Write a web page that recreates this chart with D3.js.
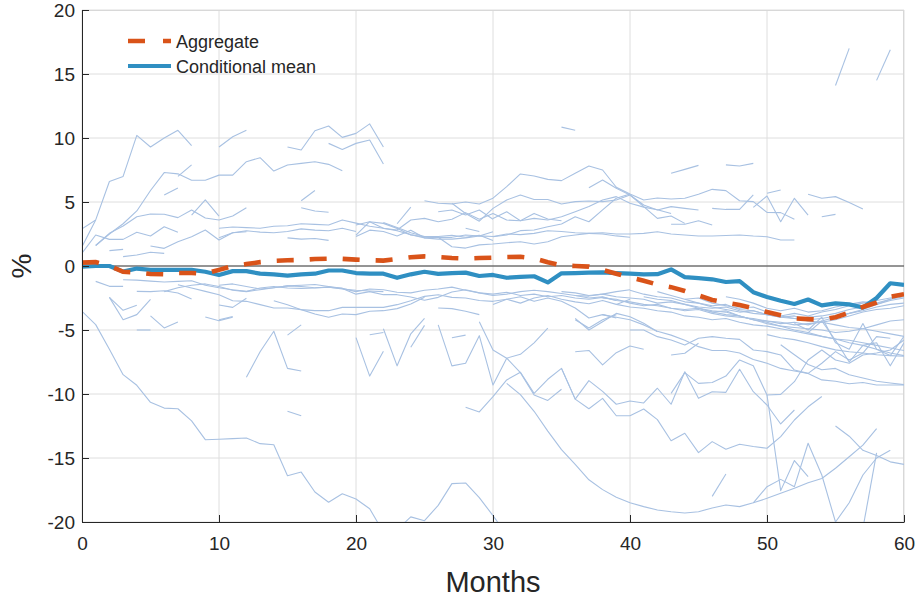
<!DOCTYPE html>
<html>
<head>
<meta charset="utf-8">
<script src="https://cdn.jsdelivr.net/npm/d3@7"></script>
<style>
  body { margin: 0; background: #fff; }
  svg text { font-family: "Liberation Sans", Arial, Helvetica, sans-serif; fill: #262626; }
</style>
</head>
<body>
<svg id="chart" width="917" height="602"></svg>
<script>
/*
 * Aggregate vs conditional mean, with the individual paths behind
 */

var xTicks = [0, 10, 20, 30, 40, 50, 60];
var yTicks = [-20, -15, -10, -5, 0, 5, 10, 15, 20];

// months 0..60
var aggregate = [
  0.26, 0.3, 0.0, -0.45, -0.5, -0.62, -0.65, -0.55, -0.55, -0.6,
  -0.3, 0.0, 0.15, 0.3, 0.4, 0.45, 0.47, 0.55, 0.57, 0.56,
  0.5, 0.45, 0.42, 0.55, 0.68, 0.75, 0.7, 0.62, 0.58, 0.62,
  0.65, 0.7, 0.72, 0.6, 0.3, 0.05, 0.0, -0.05, -0.3, -0.6,
  -0.9, -1.15, -1.45, -1.65, -1.95, -2.3, -2.65, -2.86, -3.05, -3.3,
  -3.6, -3.85, -4.09, -4.15, -4.2, -4.0, -3.65, -3.2, -2.85, -2.4, -2.2
];

var condMean = [
  -0.05, 0.0, 0.0, -0.44, -0.2, -0.3, -0.3, -0.3, -0.3, -0.45,
  -0.7, -0.4, -0.4, -0.6, -0.65, -0.75, -0.65, -0.6, -0.35, -0.35,
  -0.55, -0.6, -0.6, -0.92, -0.65, -0.45, -0.62, -0.55, -0.52, -0.78,
  -0.7, -0.92, -0.85, -0.8, -1.28, -0.57, -0.55, -0.52, -0.5, -0.55,
  -0.6, -0.65, -0.64, -0.27, -0.87, -0.95, -1.04, -1.25, -1.18, -2.05,
  -2.42, -2.72, -2.97, -2.62, -3.08, -2.92, -3.0, -3.24, -2.5, -1.35, -1.48
];

// individual paths: [first month, values...], null = missing
var upperPaths = [
  [0, [1.5, 3.6, 6.6, 7.0, 10.2, 9.3, 10.0, 10.6, 9.4]],
  [10, [9.3, 10.1, 10.6]],
  [15, [9.3, 9.06, 10.57, 10.94, 10.05, 10.36, 11.1, 9.3]],
  [18, [9.58, 9.1, 9.58, 9.84, 7.97]],
  [1, [1.6, 2.5, 3.3, 4.3, 5.9, 7.3, 7.2, 6.7, 6.7, 7.1, 7.1, 8.15, 8.46, 7.42, 7.89, 8.02, 8.15, 7.94, 7.45]],
  [6, [5.55, 6.1]],
  [7, [7.0, 7.9]],
  [1, [1.6, 2.55, 3.12, 3.85, 4.06, 4.04, 3.78, 4.38, 3.75, 3.59, 3.9, 4.55]],
  [8, [3.98, 5.16, 3.9]],
  [0, [1.0, 2.42, 2.08, 2.08, 2.63, 2.34, 3.07, 2.63]],
  [5, [1.56, 1.38, 1.9, 2.29, 2.81, 2.03, 2.6, 2.68]],
  [3, [0.73, 0.86, 1.07, 0.99]],
  [2, [1.2, 1.3]],
  [0, [2.9, 3.6]],
  [10, [2.95, 3.05, 3.0, 2.95, 3.1, 3.15, 3.3, 3.25, 3.2, 3.6, 3.35, 3.1, 2.95, 2.75, 2.45, 2.2, 2.1, 2.1, 2.2, 2.35, 2.3, 2.5, 2.45, 2.55, 2.75, 2.7, 2.6, 2.55, 2.5, 2.35, 2.25]],
  [10, [2.2, 2.6, 2.75, 2.65, 2.6, 2.7, 2.9, 2.8, 2.75, 2.95, 2.7, null, 3.4, 3.0, 2.6, 2.3, 2.3, 2.4, 2.25, 2.4, 2.0]],
  [15, [2.2, 2.1, 2.15, 2.0]],
  [16, [5.1, 5.9]],
  [16, [4.55, 4.3, 4.2]],
  [20, [2.3, 2.8, 2.7, 2.35, 2.8, 2.2, 2.25, 1.5, 1.4, 1.65, 1.72, 1.82, 1.9, 1.72, 1.9, 2.29, 2.42, 2.55, 2.6, 2.5, 2.5, 2.55, 2.68, 2.5, 2.42, 2.34, 2.34, 2.38, 2.42, 2.34, 2.29, 2.03, 2.03]],
  [20, [3.2, 3.46, 2.94, 2.81, 3.59, 3.72, 3.46, 3.65, 4.17, 3.65, 4.11, 3.59, 3.54, 3.72, 3.59, 3.85, 4.24, 4.64, 5.16, 5.42, 4.9, 4.6, 4.4, 4.1]],
  [25, [5.1, 4.9, 4.85, 5.0, 4.85, 5.3, 6.2, 7.19, 7.03, 6.77, 6.67, 7.24, 7.81, 7.5, 6.15, 5.63, 5.16, 5.31, 5.23, 5.29, 5.6, 5.99, 5.89, 5.1, 5.03, 4.19, 4.17, 3.65]],
  [27, [4.9, 4.1, 3.5, 4.5, 5.16, 5.55, 5.2, 5.2, 4.84, 5.03, 5.08, 5.03, 5.16, 5.55, 4.77, 4.38, 4.64, 4.5, 4.38]],
  [37, [6.12, 6.72, 6.07, 5.55, 4.64, 3.72, 3.9, 3.33]],
  [30, [2.29, 2.42, 2.76, 2.81, 3.07, 3.28, 3.85, 3.46, 4.38, 5.29, 5.63]],
  [30, [3.72, 4.24, 3.54, 4.11, 3.67, 3.54]],
  [43, [3.26, 3.26, 3.54, 3.2]],
  [46, [4.5, 4.42, 4.42, 5.55]],
  [49, [4.58, 5.47, 3.46, 5.29, 3.98]],
  [50, [5.68, 5.94]],
  [53, [5.6, 5.29, 5.42, 4.97, 4.45]],
  [54, [3.85, 4.03]],
  [43, [7.24, 7.55, 7.86]],
  [47, [7.9, 7.81, 8.02]],
  [35, [10.85, 10.6]],
  [55, [14.1, 17.0]],
  [58, [14.5, 16.9]],
  [20, [2.42, 3.46, 3.33, 2.94, 2.42, 2.29, 2.24, 2.24, 2.42, 2.34, 2.68]],
  [26, [4.24, 4.38, 3.98, 4.38, 3.65]],
  [23, [3.3, 4.6]],
  [28, [2.95, 2.7]]
];

var lowerPaths = [
  [1, [-1.2, -1.59, -1.59]],
  [3, [-1.07, -1.1, -1.18, -1.25, -1.2, -1.15, -1.5, -1.7, -1.85, -1.98, -1.72, -1.6, -1.72, -1.75, -1.72, -1.65, -1.75, -2.2, -2.0, -2.24, -2.24, -2.42, -2.68, -2.45, -2.03, -1.85, -2.1, -2.2, -2.05, -2.3, -2.2, -2.4, -2.3, -2.5, -2.6, -2.45, -2.7]],
  [4, [-1.98, -2.0, -1.93, -2.11, -2.58]],
  [7, [-1.46, -1.72, -1.98, -2.24, -2.71, -2.76, -3.02, -3.28, -3.28, -3.41, -3.49, -3.49, -3.23, -3.23, -3.23, -3.23, -3.02, -2.71, -2.37, -2.24, -2.45, -2.5, -2.7, -2.76, -2.6, -2.9, -2.5, -2.3, -2.6, -2.8, -2.95, -2.7, -3.0, -2.6]],
  [14, [-2.71, -3.02, -3.41, -3.75, -4.0, -3.75, -3.8, -3.54, -3.49, -3.33, -2.97, -2.45]],
  [26, [-3.28, -3.33, -3.54, -3.8]],
  [2, [-2.45, -3.46, -3.07]],
  [2, [-2.45, -4.2, -3.8, -2.6]],
  [5, [-3.9, -4.84, -4.37]],
  [4, [-5.0, -5.0]],
  [9, [-3.98, -4.27, -4.0]],
  [6, [-2.0, -1.7, -1.5, -1.4, -1.6, -1.9, -2.0, -1.85, -1.7, -1.55, -1.6, -1.7, -1.65, -1.8, -1.9, -1.95, -2.0]],
  [10, [-1.5, -1.4, -1.6, -1.8, -1.7, -1.55, -1.5, -1.45, -1.6, -1.75, -2.0, -1.8, -1.85, -2.05, -2.1, -1.9, -1.8, -1.65, -1.9, -2.1, -2.3, -2.2, -2.0, -1.9, -2.0, -2.15, -2.3, -2.35, -2.2, -2.0, -1.85]],
  [10, [-3.05, -3.23, -2.52]],
  [10, [-4.2, -3.95]],
  [30, [-3.0, -2.6, -2.4, -2.76, -2.5, -2.76, -3.28, -4.06, -3.8, -4.06]],
  [36, [-4.2, -4.85, -4.2, -3.8]],
  [36, [-4.09, -5.0, -4.35, -3.7, -3.96, -4.48, -5.13]],
  // converging bundle on the right
  [35, [-2.0, -2.1, -2.3, -2.2, -2.4, -2.5, -2.6, -2.9, -2.8, -3.0, -3.2, -3.3, -3.2, -3.5, -3.7, -3.8, -3.9, -4.1, -4.0, -3.9, -3.7, -3.4, -3.2, -3.0, -2.7, -2.5]],
  [36, [-2.3, -2.5, -2.4, -2.7, -2.8, -3.0, -3.1, -3.3, -3.4, -3.3, -3.6, -3.8, -3.9, -4.2, -4.3, -4.5, -4.4, -4.6, -4.3, -4.0, -3.7, -3.5, -3.2, -3.0, -2.9]],
  [38, [-2.5, -2.6, -2.9, -3.1, -3.0, -3.3, -3.5, -3.4, -3.7, -3.9, -4.0, -4.1, -4.3, -4.4, -4.6, -4.5, -4.4, -4.2, -3.9, -3.6, -3.4, -3.3, -3.1]],
  [40, [-1.9, -2.2, -2.4, -2.5, -2.8, -2.9, -3.2, -3.4, -3.6, -3.5, -3.8, -4.0, -3.9, -4.2, -4.1, -3.9, -3.7, -3.4, -3.0, -2.6, -2.2]],
  [41, [-2.4, -2.6, -2.7, -3.0, -3.3, -3.6, -3.5, -3.9, -4.2, -4.4, -4.7, -4.8, -4.9, -5.0, -5.2, -5.1, -4.9, -4.6, -4.3, -4.2]],
  [39, [-3.0, -3.2, -3.3, -3.5, -3.6, -3.9, -4.0, -4.2, -4.1, -4.4, -4.6, -4.7, -4.9, -5.1, -5.3, -5.5, -5.7, -5.8, -6.0, -6.2, -6.4, -6.6]],
  [42, [-2.0, -2.3, -2.6, -2.5, -2.9, -3.1, -3.3, -3.2, -3.6, -3.9, -3.7, -3.9, -3.6, -3.4, -3.1, -2.9, -2.7, -2.5, -2.3]],
  [44, [-2.6, -2.9, -3.1, -3.0, -3.4, -3.5, -3.8, -4.0, -4.1, -4.3, -4.4, -4.6, -4.8, -4.9, -5.1, -5.3, -5.5]],
  [45, [-3.3, -3.5, -3.6, -3.9, -4.2, -4.5, -4.7, -5.0, -5.2, -5.5, -5.7, -6.0, -6.2, -6.5, -6.8, -7.0]],
  [47, [-2.4, -2.6, -2.9, -3.3, -3.5, -3.3, -3.6, -3.5, -3.2, -3.0, -2.8, -2.9, -2.6, -2.4]],
  [52, [-4.5, -5.0, -4.0, -6.0, -6.5, -4.5, -6.5, -7.0, -5.5]],
  [53, [-5.2, -4.3, -5.8, -7.5, -6.2, -6.0, -7.8, -6.0]],
  [38, [-3.8, -4.0, -4.2, -4.6, -5.1, -5.4, -5.8, -6.3, -6.6, -6.6, -6.8, -7.3, -7.6, -8.0, -8.2, -8.4, -8.9, -9.0, -9.2, -9.1, -9.3, -9.3, -9.3]],
  [50, [-5.36, -5.6, -5.75, -6.0, -6.3, -6.55, -6.7, -6.8, -6.93, -7.0, -7.05]],
  [51, [-6.15, -6.93, -7.7, -8.1, -8.0, -8.5, -8.75, -9.0, -9.14, -9.27]]
];

var deepPaths = [
  [20, [-5.6, -8.6, -6.66]],
  [21, [-5.37, -5.2]],
  [22, [-4.9, -7.8, -5.3, -4.1]],
  [24, [-6.35, -4.64]],
  [26, [-4.6, -7.8, -7.6, -5.44, -9.3, -7.2, -6.9, -6.0, -4.85]],
  [27, [-5.6, -5.4]],
  [28, [-11.04, -11.4, -10.2, -8.9, -8.3, -9.95, -8.85, -8.0, -10.4, -8.96, -9.8, -10.8, -10.55, -10.7, -9.55, -10.8, -8.26, -10.34, -9.82, -9.87, -8.07, -9.82, -10.86, -12.34, -11.25]],
  [12, [-8.7, -6.7, -5.1, -8.0, -8.2]],
  [15, [-5.4, -4.6]],
  [15, [-11.35, -11.7]],
  [29, [-4.35, -6.56, -7.2, -8.33, -10.08, -10.5, -9.63]],
  [36, [-6.7, -6.6, -7.73, -6.77, -6.25, -6.5]],
  [35, [-8.0, -10.4, -11.15, -10.34, -11.7, -11.7, -11.17, -12.0, -13.65, -13.07, -14.58, -13.72, -14.32, -13.93, -14.1, -14.24, -13.33, -12.03, -11.0, -10.2]],
  [43, [-9.95, -8.33, -9.17, -9.1, -8.6, -7.34, -7.8, -10.08, -10.03, -9.04, -7.34, -6.56, -7.34, -7.6, -6.95, -6.8, -6.56, -5.78]],
  [40, [-5.0, -5.0, -5.52, -5.78, -6.17, -5.65, -5.52, -5.65, -5.73, -6.56, -6.69, -6.95, -8.13, -8.39, -7.6, -6.69, -7.34, -6.8, -5.52, -5.65]],
  [43, [-6.95, -6.82, -6.04]],
  [0, [-3.54, -4.58, -6.5, -8.49, -9.32, -10.65, -11.1, -11.15, -12.1, -13.57, -13.54, -13.49, -13.44, -13.88, -13.96, -16.38, -16.1, -17.66, -18.46, -17.79, -18.2, -18.96, -20.8]],
  [23, [-20.6, -19.6, -19.9, -18.7, -17.0, -16.95, -18.1, -19.5, -21.0]],
  [31, [-9.17, -10.05, -11.35, -12.9, -14.35, -15.5, -16.7, -17.47, -18.07, -18.5, -18.8, -19.06, -19.2, -19.3, -19.2, -18.9, -18.67, -18.8, -18.5, -18.15, -17.76, -17.37, -16.93, -16.6, -15.8, -14.9, -14.0, -12.7]],
  [49, [-18.5, -17.24, -16.67, -17.24, -13.85, -16.33, -20.0, -18.5, -16.33, -15.0, -14.4]],
  [50, [-10.08, -17.55, -15.2, -16.45]],
  [46, [-18.0, -16.25]],
  [57, [-20.5, -14.6]],
  [55, [-12.5, -13.3, -14.4, -14.8, -15.3, -15.5]]
];

var COLORS = {
  thin: "#a8c1e2",
  aggregate: "#d95319",
  mean: "#2f8fc2",
  grid: "#dedede",
  axis: "#262626"
};

var plot = { left: 82, top: 10, right: 904, bottom: 522 };

var svg = d3.select("#chart");

var x = d3.scaleLinear().domain([0, 60]).range([plot.left, plot.right]);
var y = d3.scaleLinear().domain([-20, 20]).range([plot.bottom, plot.top]);

// clip for the data
svg.append("defs").append("clipPath").attr("id", "plotClip")
  .append("rect")
  .attr("x", plot.left).attr("y", plot.top)
  .attr("width", plot.right - plot.left).attr("height", plot.bottom - plot.top);

// grid
var grid = svg.append("g");
grid.selectAll(".gx").data(xTicks).enter().append("line")
  .attr("x1", function(d){ return x(d); }).attr("x2", function(d){ return x(d); })
  .attr("y1", plot.top).attr("y2", plot.bottom)
  .style("stroke", COLORS.grid).style("stroke-width", 1);
grid.selectAll(".gy").data(yTicks).enter().append("line")
  .attr("x1", plot.left).attr("x2", plot.right)
  .attr("y1", function(d){ return y(d); }).attr("y2", function(d){ return y(d); })
  .style("stroke", COLORS.grid).style("stroke-width", 1);

// light box on top and right
svg.append("line").attr("x1", plot.left).attr("x2", plot.right).attr("y1", plot.top + 0.5).attr("y2", plot.top + 0.5)
  .style("stroke", "#d8d8d8");
svg.append("line").attr("x1", plot.right - 0.5).attr("x2", plot.right - 0.5).attr("y1", plot.top).attr("y2", plot.bottom)
  .style("stroke", "#d8d8d8");

var line = d3.line()
  .defined(function(d){ return d[1] !== null; })
  .x(function(d){ return x(d[0]); })
  .y(function(d){ return y(d[1]); });

function toPoints(path){
  return path[1].map(function(v, i){ return [path[0] + i, v]; });
}

var data = svg.append("g").attr("clip-path", "url(#plotClip)");

var allPaths = upperPaths.concat(lowerPaths).concat(deepPaths);
data.selectAll(".thin").data(allPaths).enter().append("path")
  .attr("d", function(p){ return line(toPoints(p)); })
  .style("fill", "none")
  .style("stroke", COLORS.thin)
  .style("stroke-width", 1.1)
  .style("stroke-linejoin", "round");

// zero line
data.append("line")
  .attr("x1", plot.left).attr("x2", plot.right)
  .attr("y1", y(0)).attr("y2", y(0))
  .style("stroke", "#3a3a3a").style("stroke-width", 1);

var meanPts = condMean.map(function(v, i){ return [i, v]; });
var aggPts = aggregate.map(function(v, i){ return [i, v]; });

data.append("path").attr("d", line(meanPts))
  .style("fill", "none").style("stroke", COLORS.mean)
  .style("stroke-width", 4.2).style("stroke-linejoin", "round");

data.append("path").attr("d", line(aggPts))
  .style("fill", "none").style("stroke", COLORS.aggregate)
  .style("stroke-width", 4.6).style("stroke-dasharray", "17,16");

// axes, ticks pointing inward, plain hyphen for negatives
var fmt = function(d){ return String(d); };
var yAxis = d3.axisLeft(y).tickValues(yTicks).tickFormat(fmt).tickSizeInner(-7).tickSizeOuter(0).tickPadding(7);
var xAxis = d3.axisBottom(x).tickValues(xTicks).tickFormat(fmt).tickSizeInner(-7).tickSizeOuter(0).tickPadding(15);

var gy = svg.append("g").attr("transform", "translate(" + plot.left + ",0)").call(yAxis);
var gx = svg.append("g").attr("transform", "translate(0," + plot.bottom + ")").call(xAxis);

[gx, gy].forEach(function(g){
  g.selectAll("path, line").style("stroke", COLORS.axis).style("stroke-width", 1);
  g.selectAll("text").style("font-size", "19px").style("fill", COLORS.axis)
    .style("font-family", "'Liberation Sans', Arial, sans-serif");
});

// axis labels
svg.append("text")
  .attr("transform", "translate(31," + y(0) + ") rotate(-90)")
  .attr("text-anchor", "middle")
  .style("font-size", "28px")
  .text("%");

svg.append("text")
  .attr("x", (plot.left + plot.right) / 2)
  .attr("y", 592)
  .attr("text-anchor", "middle")
  .style("font-size", "29px")
  .text("Months");

// legend
var legend = [
  { label: "Aggregate", color: COLORS.aggregate, dash: "17,18", width: 4.6, y: 41 },
  { label: "Conditional mean", color: COLORS.mean, dash: null, width: 4.2, y: 66 }
];
var lg = svg.append("g");
legend.forEach(function(item){
  lg.append("line")
    .attr("x1", 128).attr("x2", 171)
    .attr("y1", item.y).attr("y2", item.y)
    .style("stroke", item.color).style("stroke-width", item.width)
    .style("stroke-dasharray", item.dash);
  lg.append("text")
    .attr("x", 176).attr("y", item.y + 6.5)
    .style("font-size", "18px")
    .text(item.label);
});
</script>
</body>
</html>
